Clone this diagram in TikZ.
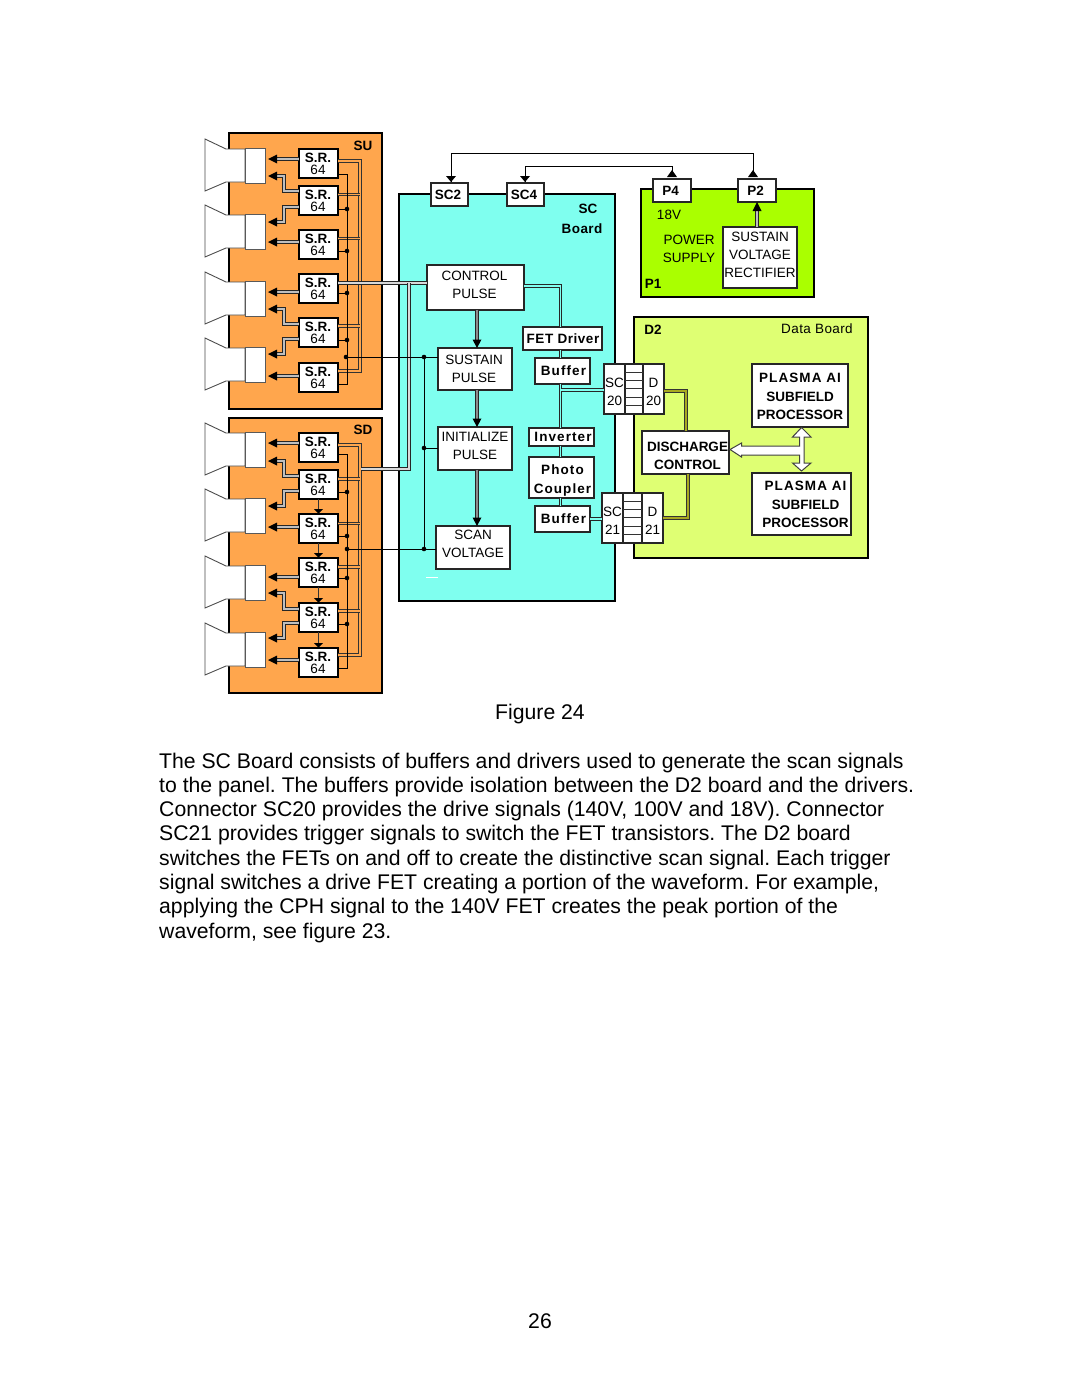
\documentclass[tikz,border=0pt]{standalone}
\usepackage{fontspec}
\setmainfont{Liberation Sans}
\definecolor{brdorange}{HTML}{FFA64D}
\definecolor{brdcyan}{HTML}{7FFFEF}
\definecolor{brdgreen}{HTML}{AAFF00}
\definecolor{brdlime}{HTML}{DFFF73}
\definecolor{olivein}{HTML}{A8A820}
\tikzset{
  board/.style={draw=black,line width=2.4pt},
  plainbox/.style={draw=black!85,fill=white,line width=1.2pt,inner sep=0pt,outer sep=0pt,align=center,font=\fontsize{13.5}{18}\selectfont},
  boldbox/.style={plainbox,font=\fontsize{13.5}{18.5}\selectfont\bfseries},
  srbox/.style={draw=black,fill=white,line width=2.2pt,inner sep=0pt,outer sep=0pt,align=center,font=\fontsize{13.5}{12}\selectfont},
  spkbox/.style={draw=black!65,fill=white,line width=1pt,inner sep=0pt,outer sep=0pt},
  lab/.style={inner sep=0pt,font=\fontsize{13.5}{18}\selectfont,align=center},
  blab/.style={lab,font=\fontsize{13.5}{18.5}\selectfont\bfseries},
  para/.style={inner sep=0pt,anchor=base west,font=\fontsize{21.2}{24}\selectfont\frenchspacing},
  thin wire/.style={draw=black,line width=1pt},
  sig/.style={draw=black!85,line width=.85pt,double=black!25,double distance=1.5pt},
  busor/.style={draw=black!80,line width=.8pt,double=brdorange,double distance=1.5pt},
  buscy/.style={draw=black!85,line width=.8pt,double=brdcyan,double distance=1.5pt},
  busgr/.style={draw=black!85,line width=.8pt,double=black!15,double distance=1.5pt},
  busol/.style={draw=black!80,line width=.8pt,double=olivein,double distance=1.5pt},
  dot/.style={circle,fill=black,inner sep=0pt,minimum size=4.6pt},
  stripe/.style={draw=black!80,line width=.9pt}
}
\newcommand\wide[2]{{\addfontfeature{LetterSpace=#1}#2}}
% [dx,dy of text], name, x1,y1,x2,y2, style, text
\newcommand\mybox[8][0,0]{%
  \node[#7,minimum width={(#5-#3)*1pt},minimum height={(#6-#4)*1pt}] (#2) at ({(#3+#5)/2},{(#4+#6)/2}) {};
  \node[#7,draw=none,fill=none,shift={(#1)}] (#2t) at (#2.center) {#8};}
% speaker: name, top
\newcommand\spk[2]{%
  \path[draw=black!70,fill=white,line width=.9pt] (205,#2-9) -- (226,#2+1) -- (245,#2+1) -- (245,#2+34) -- (226,#2+34) -- (205,#2+43) -- cycle;
  \node[spkbox,minimum width=20pt,minimum height=35pt] (#1) at (255,#2+17.5) {};}
\newcommand\srn[2]{\mybox[-.5,0]{#1}{299}{#2}{338}{#2+29}{srbox}{\textbf{S.R.}\\64}}
% left tips
\newcommand\tipL[1]{\fill[black] (#1) -- ++(9,-4.5) -- ++(0,9) -- cycle;}
% straight arrow: tipname, sr, y
\newcommand\arS[3]{\coordinate (#1) at (268,#3); \draw[sig] (#2.west |- #1) -- ([xshift=8pt]#1); \tipL{#1}}
% bent arrow: tipname, sr, ysr, ytip
\newcommand\arB[4]{\coordinate (#1) at (268,#4); \coordinate (#1b) at (284,#3); \draw[sig] (#2.west |- #1b) -- (#1b) |- ([xshift=8pt]#1); \tipL{#1}}
% thin output with dot: sr, y
\newcommand\thinDot[2]{\coordinate (tmpd) at (347,#2); \draw[thin wire] (#1.east |- tmpd) -- (tmpd); \node[dot] at (tmpd) {};}
% bus stub
\newcommand\stub[2]{\coordinate (tmpb) at (360,#2); \draw[busor] (#1.east |- tmpb) -- (tmpb);}
% connector block: name, x0,x1,x2,x3, top, bottom, number, dy
\newcommand\cnblock[9]{%
  \mybox[0,#9]{#1l}{#2}{#6}{#3}{#7}{plainbox}{SC\\#8}
  \mybox{#1m}{#3}{#6}{#4}{#7}{plainbox}{}
  \mybox[0,#9]{#1r}{#4}{#6}{#5}{#7}{plainbox}{D\\#8}
  \foreach \k in {1,...,5}{\draw[stripe] (#3,{#6+8.3*\k}) -- (#4,{#6+8.3*\k});}}
\begin{document}
\begin{tikzpicture}[x=1pt,y=-1pt]
\useasboundingbox (0,0) rectangle (1080,1397);
\fill[white] (0,0) rectangle (1080,1397);
% boards
\draw[board,fill=brdorange] (229,133) rectangle (382,409);
\draw[board,fill=brdorange] (229,418) rectangle (382,693);
\draw[board,fill=brdcyan] (399,194) rectangle (615,601);
\draw[board,fill=brdgreen] (641,189) rectangle (814,297);
\draw[board,fill=brdlime] (634,317) rectangle (868,558);
% speakers
\spk{ua}{148}\spk{ub}{214}\spk{uc}{281}\spk{ud}{347}
\spk{da}{432}\spk{db}{498}\spk{dc}{565}\spk{dd}{632}
% shift registers
\srn{sa}{149}\srn{sb}{186}\srn{sc}{230}\srn{sd}{274}\srn{se}{318}\srn{sf}{363}
\srn{ta}{433}\srn{tb}{470}\srn{tc}{514}\srn{td}{558}\srn{te}{603}\srn{tf}{648}
% signal arrows to speakers
\arS{a1}{sa}{159}\arB{a2}{sb}{191}{176}\arB{a3}{sb}{207}{222}\arS{a4}{sc}{242}
\arS{a5}{sd}{292}\arB{a6}{se}{324}{309}\arB{a7}{se}{339}{354}\arS{a8}{sf}{376}
\arS{b1}{ta}{443}\arB{b2}{tb}{476}{461}\arB{b3}{tb}{491}{506}\arS{b4}{tc}{527}
\arS{b5}{td}{577}\arB{b6}{te}{609}{593}\arB{b7}{te}{623}{638}\arS{b8}{tf}{660}
% SD cascade
\foreach \p/\q in {tb/tc,tc/td,td/te,te/tf}{
  \draw[draw=black!80,line width=1.4pt] (\p.south) -- ([yshift=4pt]\q.north);
  \fill[black] (\q.north) ++(0,-.5) -- ++(-4.5,-4.5) -- ++(9,0) -- cycle;}
% right-hand buses, SU
\coordinate (ubt) at (360,161); \coordinate (ubb) at (360,371);
\coordinate (dbt) at (360,445); \coordinate (dbb) at (360,655);
\draw[busor] (sa.east |- ubt) -- (ubt) -- (ubb) -- (sf.east |- ubb);
\stub{sb}{194.5}\stub{sc}{238.5}\stub{se}{326}
\draw[busor] (ta.east |- dbt) -- (dbt) -- (dbb) -- (tf.east |- dbb);
\stub{tb}{479}\stub{tc}{523.5}\stub{td}{567}\stub{te}{611}
% thin clock lines
\coordinate (ut) at (347,174); \coordinate (ub1) at (347,384);
\draw[thin wire] (sa.east |- ut) -- (ut) -- (ub1) -- (sf.east |- ub1);
\thinDot{sb}{209}\thinDot{sc}{251}\thinDot{sd}{293}\thinDot{se}{340}
\coordinate (dt) at (347,454); \coordinate (db1) at (347,668);
\draw[thin wire] (ta.east |- dt) -- (dt) -- (db1) -- (tf.east |- db1);
\thinDot{tb}{492}\thinDot{tc}{536}\thinDot{td}{578}\thinDot{te}{624}
% SC board blocks
\mybox[-1.5,0]{sctwo}{431}{183}{468}{206}{boldbox}{SC2}
\mybox[-1.5,0]{scfour}{507}{183}{544}{206}{boldbox}{SC4}
\mybox[-1,-2.5]{ctrl}{427}{265}{524}{310}{plainbox}{CONTROL\\PULSE}
\mybox[-1,-.5]{sust}{438}{348}{512}{390}{plainbox}{SUSTAIN\\PULSE}
\mybox[0,-3]{init}{438}{427}{512}{470}{plainbox}{INITIALIZE\\PULSE}
\mybox[0,-3.5]{scan}{436}{526}{510}{569}{plainbox}{SCAN\\VOLTAGE}
\mybox[.5,0]{fet}{523}{327}{602}{350}{boldbox}{\wide{4}{FET Driver}}
\mybox[1,0]{bufa}{535}{358}{590}{384}{boldbox}{\wide{8}{Buffer}}
\mybox[1.5,0]{inv}{529}{428}{594}{446}{boldbox}{\wide{8}{Inverter}}
\mybox[1,3]{photo}{529}{457}{594}{498}{boldbox}{\wide{8}{Photo}\\\wide{8}{Coupler}}
\mybox[1,0]{bufb}{535}{506}{590}{532}{boldbox}{\wide{8}{Buffer}}
\node[blab] (sclab) at (588,209) {SC};
\node[blab] (sclabb) at (582,229) {\wide{3}{Board}};
\draw[white,line width=1pt] (426,577) -- (438,577);
% main bus from control pulse to SU and SD
\coordinate (ctlj) at (409,283); \coordinate (ctll) at (361,469); \coordinate (ctlk) at (409,469);
\draw[busgr] (ctrl.west |- ctlj) -- (sd.east |- ctlj);
\draw[busgr] (ctlj) -- (ctlk) -- (ctll);
% thin lines SC
\coordinate (ja) at (346,357); \coordinate (jb) at (424,357); \coordinate (jc) at (424,448);
\coordinate (jd) at (424,549); \coordinate (je) at (347,549);
\draw[thin wire] (ja) -- (sust.west |- ja);
\draw[thin wire] (jb) -- (jd);
\draw[thin wire] (jc) -- (init.west |- jc);
\draw[thin wire] (je) -- (scan.west |- je);
\foreach \c in {ja,jb,jc,jd,je}{\node[dot] at (\c) {};}
% central arrows
\coordinate (tmpx) at (477,0);
\foreach \p/\q in {ctrl/sust,sust/init,init/scan}{
  \draw[sig,line width=.9pt,double=black!45,double distance=2pt] (tmpx |- \p.south) -- ([yshift=6pt]tmpx |- \q.north);
  \fill[black] (tmpx |- \q.north) -- ++(-4.5,-8.5) -- ++(9,0) -- cycle;}
% connector blocks
\cnblock{cb}{604}{625}{643}{664}{364}{414}{20}{3}
\cnblock{cc}{602}{623}{642}{663}{493}{543}{21}{2.5}
% right column of SC
\coordinate (cpe) at (560.5,286); \coordinate (fetx) at (560.5,0);
\draw[buscy] (ctrl.east |- cpe) -- (cpe) -- (fetx |- fet.north);
\draw[buscy] (fetx |- fet.south) -- (fetx |- bufa.north);
\draw[buscy] (fetx |- bufa.south) -- (fetx |- inv.north);
\draw[buscy] (fetx |- inv.south) -- (fetx |- photo.north);
\draw[buscy] (fetx |- photo.south) -- (fetx |- bufb.north);
\coordinate (jf) at (560.5,390);
\draw[buscy] (jf) -- (cbl.west |- jf);
\draw[buscy] (bufb.east) -- (ccl.west |- bufb.east);
% power board
\mybox[-1.5,0]{pfour}{653}{179}{691}{202}{boldbox}{P4}
\mybox[-1.5,0]{ptwo}{738}{179}{776}{202}{boldbox}{P2}
\mybox[0,-3]{rect}{723}{227}{797}{288}{plainbox}{SUSTAIN\\VOLTAGE\\RECTIFIER}
\node[lab] (lv) at (669,215) {18V};
\node[lab] (ps) at (689,249) {POWER\\SUPPLY};
\node[blab] (pone) at (653,284) {P1};
\draw[sig,line width=.9pt] (757,227) -- (757,209);
\coordinate (ptip) at (757,202);
\fill[black] (ptip) -- ++(-4.5,9) -- ++(9,0) -- cycle;
% top wires
\coordinate (wa) at (451,153); \coordinate (wb) at (753,153);
\coordinate (wc) at (525,166); \coordinate (wd) at (672,166);
\coordinate (aa) at (451,182); \coordinate (ab) at (753,177);
\coordinate (ac) at (525,182); \coordinate (ad) at (672,177);
\draw[thin wire] (aa) -- (wa) -- (wb) -- (ab);
\draw[thin wire] (ac) -- (wc) -- (wd) -- (ad);
\fill[black] (aa) -- ++(-5,-6) -- ++(10,0) -- cycle;
\fill[black] (ac) -- ++(-5,-6) -- ++(10,0) -- cycle;
\fill[black] (ab) ++(-5,0) -- ++(10,0) -- ++(-5,-7) -- cycle;
\fill[black] (ad) ++(-5,0) -- ++(10,0) -- ++(-5,-7) -- cycle;
% data board
\node[blab] (dtwo) at (653,330) {D2};
\node[lab] (dbl) at (817,329) {\wide{3}{Data Board}};
\mybox[2,3.5]{disc}{642}{431}{729}{474}{boldbox}{DISCHARGE\\CONTROL}
\mybox[0,1]{plaa}{752}{364}{848}{427}{boldbox}{\wide{8}{PLASMA AI}\\SUBFIELD\\PROCESSOR}
\mybox[4,.5]{plab}{752}{473}{851}{535}{boldbox}{\wide{8}{PLASMA AI}\\SUBFIELD\\PROCESSOR}
\coordinate (ea) at (686,391); \coordinate (eb) at (688,518);
\draw[busol] (cbr.east |- ea) -- (ea) -- (ea |- disc.north);
\draw[busol] (eb |- disc.south) -- (eb) -- (ccr.east |- eb);
\draw[draw=black!75,fill=white,line width=1pt,line join=miter]
  (730,449.5) -- (741.5,443) -- (741.5,446) -- (799.5,446) -- (799.5,437) -- (792.5,437)
  -- (801.5,427.5) -- (811,437) -- (804,437) -- (804,463) -- (811,463) -- (801.5,471)
  -- (792.5,463) -- (799.5,463) -- (799.5,455) -- (741.5,455) -- (741.5,457) -- cycle;
% small board labels
\node[blab] (sulab) at (363,146) {SU};
\node[blab] (sdlab) at (363,430) {SD};
% caption and text
\node[para,anchor=base] (fig) at (540,719) {Figure 24};
\node[para] (l1) at (159,768) {The SC Board consists of buffers and drivers used to generate the scan signals};
\node[para] (l2) at (159,792.3) {to the panel. The buffers provide isolation between the D2 board and the drivers.};
\node[para] (l3) at (159,816.6) {Connector SC20 provides the drive signals (140V, 100V and 18V). Connector};
\node[para] (l4) at (159,840.9) {SC21 provides trigger signals to switch the FET transistors. The D2 board};
\node[para] (l5) at (159,865.2) {switches the FETs on and off to create the distinctive scan signal. Each trigger};
\node[para] (l6) at (159,889.5) {signal switches a drive FET creating a portion of the waveform. For example,};
\node[para] (l7) at (159,913.8) {applying the CPH signal to the 140V FET creates the peak portion of the};
\node[para] (l8) at (159,938.1) {waveform, see figure 23.};
\node[para,anchor=base] (pg) at (540,1328.5) {26};
\end{tikzpicture}
\end{document}
